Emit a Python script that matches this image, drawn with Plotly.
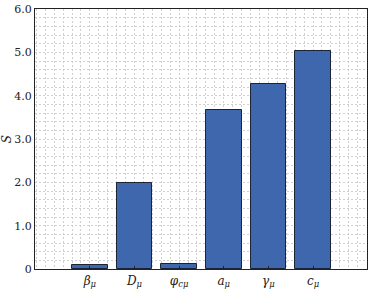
import plotly.graph_objects as go

categories = ["<i>β</i><sub><i>μ</i></sub>", "<i>D</i><sub><i>μ</i></sub>", "<i>φ</i><sub><i>cμ</i></sub>",
              "<i>a</i><sub><i>μ</i></sub>", "<i>γ</i><sub><i>μ</i></sub>", "<i>c</i><sub><i>μ</i></sub>"]
values = [0.10, 1.98, 0.12, 3.67, 4.27, 5.02]
y_ticks = [0, 1, 2, 3, 4, 5, 6]
y_tick_labels = ["0", "1.0", "2.0", "3.0", "4.0", "5.0", "6.0"]

positions = list(range(1, len(categories) + 1))

FONT = "DejaVu Serif"

fig = go.Figure(go.Bar(
    x=positions, y=values, width=0.8,
    marker=dict(color="#3F67AE", line=dict(color="#1c2333", width=1)),
))

gridc = "#cfcfcf"
dash = "2px,2px"
fig.update_layout(
    width=378, height=292,
    margin=dict(l=35, r=11, t=9, b=23),
    paper_bgcolor="white", plot_bgcolor="white",
    font=dict(family=FONT, size=11, color="#222"),
    showlegend=False,
    bargap=0,
)
fig.update_xaxes(
    range=[-0.23, 7.21], tickvals=positions, ticktext=categories,
    ticks="inside", ticklen=3, tickcolor="#222",
    showline=True, linecolor="#222", linewidth=1.2, mirror=True,
    showgrid=False, zeroline=False, automargin=False,
    minor=dict(dtick=0.2, tick0=0, showgrid=True, gridcolor=gridc, griddash=dash, gridwidth=1),
    tickfont=dict(family=FONT, size=12),
)
fig.update_yaxes(
    range=[0, 6], tickvals=y_ticks, ticktext=y_tick_labels,
    ticks="", showline=True, linecolor="#222", linewidth=1.2, mirror=True,
    zeroline=False, automargin=False,
    showgrid=True, gridcolor=gridc, gridwidth=1, griddash=dash,
    minor=dict(dtick=0.2, tick0=0, showgrid=True, gridcolor=gridc, griddash=dash, gridwidth=1),
    title=dict(text="<i>S</i>", standoff=2, font=dict(family=FONT, size=12)),
    tickfont=dict(family=FONT, size=11),
)
fig.write_html("out.html", config={"displayModeBar": False})

with open("out.html", encoding="utf-8") as f:
    html = f.read()
html = html.replace("<head>", "<head><style>html,body{margin:0;padding:0;overflow:hidden;}</style>", 1)
with open("out.html", "w", encoding="utf-8") as f:
    f.write(html)
